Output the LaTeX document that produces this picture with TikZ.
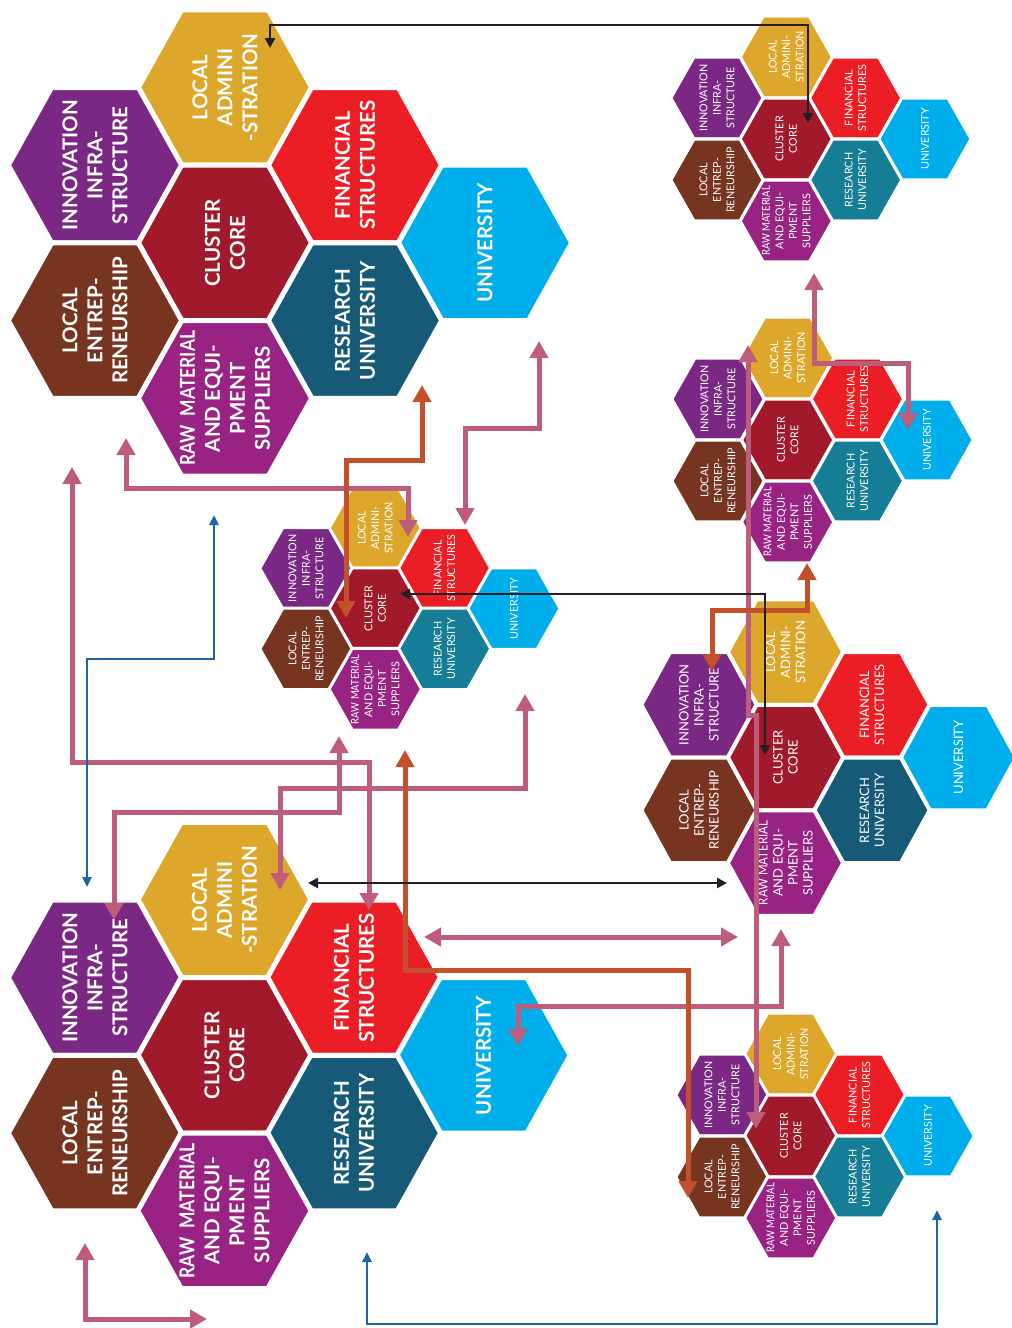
\documentclass[tikz,border=0pt]{standalone}
\usepackage{fontspec}
\setmainfont{Lato}
\usetikzlibrary{arrows.meta}
\definecolor{cLA}{HTML}{DCA72B}
\definecolor{cINN}{HTML}{7A2883}
\definecolor{cFIN}{HTML}{EC1E25}
\definecolor{cUNI}{HTML}{00AEEC}
\definecolor{cCC}{HTML}{A01A2B}
\definecolor{cLE}{HTML}{773521}
\definecolor{cRAW}{HTML}{982383}
\definecolor{cRUd}{HTML}{175A78}
\definecolor{cRUl}{HTML}{167D97}
\definecolor{cPink}{HTML}{BE5C7C}
\definecolor{cOrg}{HTML}{C2502A}
\definecolor{cBlk}{HTML}{231F20}
\definecolor{cBlue}{HTML}{1D64A4}

% one hexagonal cell: name, x, y, colour, text style, text
\newcommand{\hexcell}[6]{%
  \fill[#4, draw=white, line width=\hgap, shift={(#2,#3)}]
    (-\hA,0) -- (-\hA/2,-\hB) -- (\hA/2,-\hB) -- (\hA,0) -- (\hA/2,\hB) -- (-\hA/2,\hB) -- cycle;
  \node[#5] (#1) at (#2,#3) {#6};
}
% a cluster of eight cells: prefix, x0, y0, column step, half row step, text style, RU colour
\newcommand{\hexcluster}[7]{%
  \hexcell{#1la}{#2+#4}{#3}{cLA}{#6}{\laText}
  \hexcell{#1inn}{#2}{#3+#5}{cINN}{#6}{INNOVATION\\INFRA-\\STRUCTURE}
  \hexcell{#1fin}{#2+2*#4}{#3+#5}{cFIN}{#6}{FINANCIAL\\STRUCTURES}
  \hexcell{#1cc}{#2+#4}{#3+2*#5}{cCC}{#6}{CLUSTER\\CORE}
  \hexcell{#1uni}{#2+3*#4}{#3+2*#5}{cUNI}{#6}{UNIVERSITY}
  \hexcell{#1le}{#2}{#3+3*#5}{cLE}{#6}{LOCAL\\ENTREP-\\RENEURSHIP}
  \hexcell{#1ru}{#2+2*#4}{#3+3*#5}{#7}{#6}{RESEARCH\\UNIVERSITY}
  \hexcell{#1raw}{#2+#4}{#3+4*#5}{cRAW}{#6}{\rawText}
}

\begin{document}
\begin{tikzpicture}[x=1pt,y=-1pt,
  bigtxt/.style={text=white, rotate=90, align=center, inner sep=0pt,
    font=\fontsize{20.5}{25}\selectfont\bfseries},
  midtxt/.style={text=white, rotate=90, align=center, inner sep=0pt,
    font=\fontsize{13}{15}\selectfont},
  smalltxt/.style={text=white, rotate=90, align=center, inner sep=0pt,
    font=\fontsize{10.8}{13.5}\selectfont},
  pinkline/.style={draw=cPink, line width=5pt,
    arrows={Triangle[width=18pt,length=17pt]-Triangle[width=18pt,length=17pt]}},
  orgline/.style={draw=cOrg, line width=5pt,
    arrows={Triangle[width=18pt,length=17pt]-Triangle[width=18pt,length=17pt]}},
  blkline/.style={draw=cBlk, line width=2.5pt,
    arrows={Triangle[width=10pt,length=10pt]-Triangle[width=10pt,length=10pt]}},
  blueline/.style={draw=cBlue, line width=2.5pt,
    arrows={Triangle[width=9pt,length=10pt]-Triangle[width=9pt,length=10pt]}}]
\useasboundingbox[fill=white] (0,0) rectangle (1012,1328);

% ---------- large clusters ----------
\def\hA{86.7}\def\hB{77.7}\def\hgap{5pt}
\def\laText{LOCAL\\ADMINI\\-STRATION}
\def\rawText{\scalebox{0.85}[1]{RAW\enspace MATERIAL}\\AND EQUI-\\PMENT\\SUPPLIERS}
\hexcluster{a}{95}{87.5}{130}{77.7}{bigtxt}{cRUd}
\hexcluster{b}{95}{900}{129.5}{77.7}{bigtxt}{cRUd}

% ---------- medium cluster ----------
\def\hA{57.7}\def\hB{52.75}\def\hgap{4pt}
\def\laText{LOCAL\\ADMINI-\\STRATION}
\def\rawText{\scalebox{0.88}[1]{RAW MATERIAL}\\AND EQUI-\\PMENT\\SUPPLIERS}
\hexcluster{f}{699}{652}{86.5}{52.75}{midtxt}{cRUd}

% ---------- small clusters ----------
\def\hA{46.2}\def\hB{40.8}\def\hgap{3pt}
\hexcluster{c}{306}{528}{69.3}{40.3}{smalltxt}{cRUl}
\hexcluster{d}{717}{57}{69.3}{41}{smalltxt}{cRUl}
\hexcluster{e}{718}{358}{69.7}{41}{smalltxt}{cRUl}
\hexcluster{g}{722}{1054}{68.7}{41}{smalltxt}{cRUl}

% ---------- connector ends ----------
\coordinate (b1s) at (270,48);   \coordinate (b1e) at (808,123);
\coordinate (b2s) at (400,594);  \coordinate (b2e) at (765,755);
\coordinate (b3s) at (308,883);  \coordinate (b3e) at (727,883);
\coordinate (u1s) at (214,515);  \coordinate (u1e) at (87,887);
\coordinate (u2s) at (367,1252); \coordinate (u2e) at (937,1210);
\coordinate (p1s) at (85,1243);  \coordinate (p1e) at (207,1319);
\coordinate (p2s) at (539,341);  \coordinate (p2e) at (465,525);
\coordinate (p3s) at (126,438);  \coordinate (p3e) at (408,537);
\coordinate (p4s) at (72,467);   \coordinate (p4e) at (369,910);
\coordinate (p5s) at (339,736);  \coordinate (p5e) at (114,920);
\coordinate (p6s) at (525,694);  \coordinate (p6e) at (280,890);
\coordinate (p7s) at (424,937);  \coordinate (p7e) at (738,937);
\coordinate (p8s) at (781,929);  \coordinate (p8e) at (518,1046);
\coordinate (p9s) at (748,345);  \coordinate (p9e) at (756,1129);
\coordinate (p10s) at (814,273); \coordinate (p10e) at (908,430);
\coordinate (o1s) at (422,385);  \coordinate (o1e) at (346,618);
\coordinate (o2s) at (405,750);  \coordinate (o2e) at (688,1198);
\coordinate (o3s) at (807,563);  \coordinate (o3e) at (712,671);

% ---------- connectors ----------
\draw[pinkline] (p4s) -- ++(0,295) -| (p4e);
\draw[pinkline] (p5s) -- ++(0,76) -| (p5e);
\draw[pinkline] (p6s) -- ++(0,94) -| (p6e);
\draw[pinkline] (p3s) -- ++(0,50) -| (p3e);
\draw[pinkline] (p2s) -- ++(0,87) -| (p2e);
\draw[pinkline] (p1s) |- (p1e);
\draw[pinkline] (p7s) -- (p7e);
\draw[pinkline] (p8s) -- ++(0,77) -| (p8e);
\draw[pinkline] (p9s) -- ++(0,370) -| (p9e);
\draw[pinkline] (p10s) -- ++(0,90) -| (p10e);
\draw[orgline] (o1s) -- ++(0,75) -| (o1e);
\draw[orgline] (o2s) -- ++(0,220) -| (o2e);
\draw[orgline] (o3s) -- ++(0,47) -| (o3e);
\draw[blkline] (b1s) -- ++(0,-23) -| (b1e);
\draw[blkline] (b2s) -| (b2e);
\draw[blkline] (b3s) -- (b3e);
\draw[blueline] (u1s) -- ++(0,144) -| (u1e);
\draw[blueline] (u2s) -- ++(0,72) -| (u2e);
\end{tikzpicture}
\end{document}
